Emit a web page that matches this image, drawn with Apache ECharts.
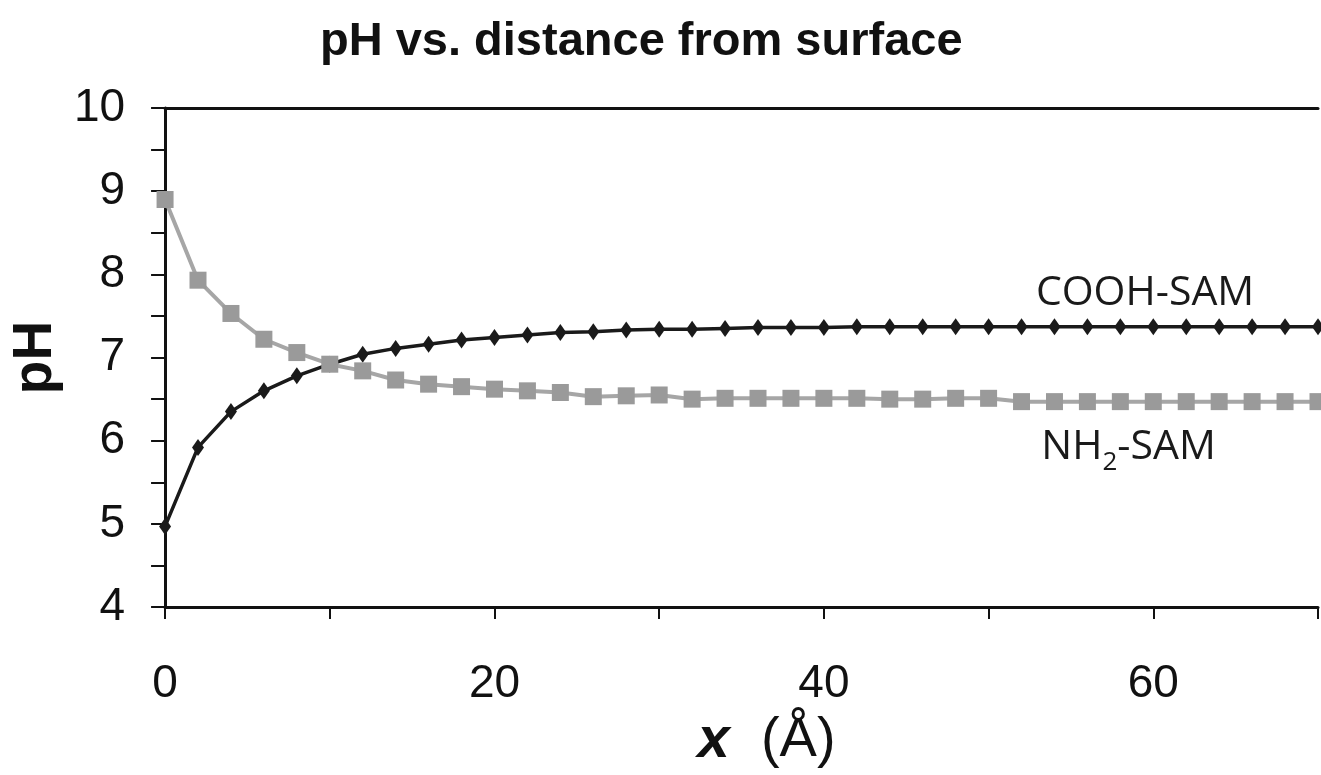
<!DOCTYPE html>
<html>
<head>
<meta charset="utf-8">
<script src="https://cdn.jsdelivr.net/npm/echarts@6/dist/echarts.min.js"></script>
<style>
html,body{margin:0;padding:0;background:#fff;}
#chart{width:1321px;height:775px;}
</style>
</head>
<body>
<div id="chart"></div>
<script>
// distance from surface (Å)
const distance = [0,2,4,6,8,10,12,14,16,18,20,22,24,26,28,30,32,34,36,38,40,42,44,46,48,50,52,54,56,58,60,62,64,66,68,70];
// pH above COOH-terminated SAM
const phCOOH = [4.97,5.92,6.35,6.60,6.78,6.92,7.04,7.11,7.16,7.21,7.24,7.27,7.30,7.31,7.33,7.34,7.34,7.35,7.36,7.36,
                7.36,7.37,7.37,7.37,7.37,7.37,7.37,7.37,7.37,7.37,7.37,7.37,7.37,7.37,7.37,7.37];
// pH above NH2-terminated SAM
const phNH2 = [8.90,7.93,7.53,7.22,7.06,6.92,6.84,6.73,6.68,6.65,6.62,6.60,6.58,6.53,6.54,6.55,6.50,6.51,6.51,6.51,
               6.51,6.51,6.50,6.50,6.51,6.51,6.47,6.47,6.47,6.47,6.47,6.47,6.47,6.47,6.47,6.47];
const xTickLabels = [0,20,40,60];
const yTickLabels = [4,5,6,7,8,9,10];
const titleText = 'pH vs. distance from surface';
const labelCOOH = 'COOH-SAM';
const labelNH2 = '{a|NH}{s|2}{a|-SAM}';

const chart = echarts.init(document.getElementById('chart'), null, {renderer:'canvas'});
const black = '#111';
const sansFont = '"Liberation Sans", Arial, sans-serif';

const option = {
  animation: false,
  backgroundColor: '#fff',
  title: {
    text: titleText,
    left: 315, top: 14,
    textStyle: {fontFamily: sansFont, fontSize: 47, fontWeight: 'bold', color: black}
  },
  grid: {left: 157, top: 108, right: 0, bottom: 158, containLabel: false},
  xAxis: [{
    type: 'value', min: 0, max: 70, interval: 10,
    name: '{i|x}{r|  (Å)}',
    nameLocation: 'middle', nameGap: 99,
    nameTextStyle: {
      padding: [0,0,0,50],
      rich: {
        i: {fontFamily: sansFont, fontSize: 58, fontWeight: 'bold', fontStyle: 'italic', color: black},
        r: {fontFamily: sansFont, fontSize: 56, color: black}
      }
    },
    axisLine: {show: true, onZero: false, lineStyle: {color: black, width: 3}},
    axisTick: {show: true, inside: false, length: 12, lineStyle: {color: black, width: 2}},
    splitLine: {show: false},
    axisLabel: {
      margin: 54, fontFamily: sansFont, fontSize: 46, color: black,
      formatter: v => xTickLabels.indexOf(v) >= 0 ? String(v) : ''
    }
  }, {
    type: 'value', position: 'top', min: 0, max: 70,
    axisLine: {show: true, onZero: false, lineStyle: {color: black, width: 3}},
    axisTick: {show: false}, axisLabel: {show: false}, splitLine: {show: false}
  }],
  yAxis: {
    type: 'value', min: 4, max: 10, interval: 0.5,
    name: 'pH', nameLocation: 'middle', nameGap: 84, nameRotate: 90,
    nameTextStyle: {fontFamily: sansFont, fontSize: 55, fontWeight: 'bold', color: black},
    axisLine: {show: true, onZero: false, lineStyle: {color: black, width: 3}},
    axisTick: {show: true, inside: false, length: 14, lineStyle: {color: black, width: 2}},
    splitLine: {show: false},
    axisLabel: {
      margin: 40, fontFamily: sansFont, fontSize: 46, color: black,
      formatter: v => yTickLabels.indexOf(v) >= 0 ? String(v) : ''
    }
  },
  series: [{
    name: 'COOH-SAM', type: 'line',
    data: distance.map((x, i) => [x, phCOOH[i]]),
    symbol: 'diamond', symbolSize: [12, 17],
    lineStyle: {color: '#1a1a1a', width: 3.5},
    itemStyle: {color: '#1a1a1a'},
    z: 2,
    markPoint: {
      symbol: 'rect', symbolSize: 1,
      itemStyle: {color: 'rgba(0,0,0,0)'},
      label: {show: true, position: 'inside', formatter: labelCOOH,
              fontFamily: '"Open Sans", sans-serif', fontSize: 41, color: '#1a1a1a'},
      data: [{coord: [59.5, 7.77]}]
    }
  }, {
    name: 'NH2-SAM', type: 'line',
    data: distance.map((x, i) => [x, phNH2[i]]),
    symbol: 'rect', symbolSize: 17,
    lineStyle: {color: '#a6a6a6', width: 4},
    itemStyle: {color: '#9a9a9a'},
    z: 3,
    markPoint: {
      symbol: 'rect', symbolSize: 1,
      itemStyle: {color: 'rgba(0,0,0,0)'},
      label: {show: true, position: 'inside', formatter: labelNH2,
              rich: {
                a: {fontFamily: '"Open Sans", sans-serif', fontSize: 41, lineHeight: 56, verticalAlign: 'middle', color: '#1a1a1a'},
                s: {fontFamily: '"Open Sans", sans-serif', fontSize: 26, lineHeight: 26, verticalAlign: 'bottom', color: '#1a1a1a'}
              }},
      data: [{coord: [58.5, 5.92]}]
    }
  }]
};
chart.setOption(option);
</script>
</body>
</html>
